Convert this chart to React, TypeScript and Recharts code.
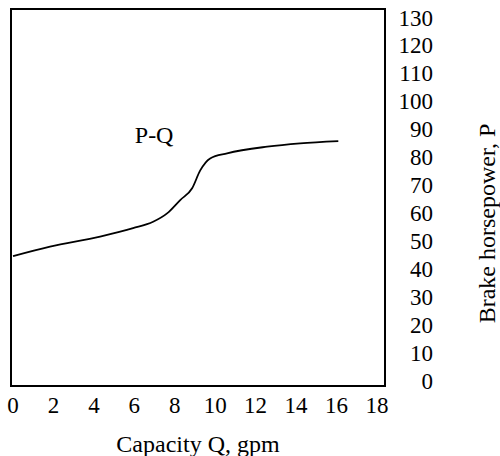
import React from 'react';
import {
  LineChart,
  Line,
  XAxis,
  YAxis,
  ReferenceArea,
  ReferenceDot,
} from 'recharts';

// capacity Q (gpm)
const capacity = [0, 1.83, 4.31, 5.94, 6.93, 7.62, 8.27, 8.86, 9.26, 9.75, 10.59, 12.57, 14.2, 16.09];
// brake horsepower P
const horsepower = [44.5, 47.9, 51.5, 54.5, 56.8, 59.8, 64.6, 68.8, 75.2, 79.5, 81.3, 83.7, 84.9, 85.7];

const xTicks = [0, 2, 4, 6, 8, 10, 12, 14, 16, 18];
const yTicks = [0, 10, 20, 30, 40, 50, 60, 70, 80, 90, 100, 110, 120, 130];

const curveLabel = { q: 6.98, p: 87.9, text: 'P-Q' };

const data = capacity.map((q, i) => ({ q, p: horsepower[i] }));

const font = '"Liberation Serif", "Times New Roman", serif';

const App: React.FC = () => {
  return (
    <div style={{ position: 'absolute', left: 0, top: 0, width: 500, height: 456, background: '#fff' }}>
      <LineChart
        width={500}
        height={456}
        data={data}
        margin={{ top: 9, right: 0, bottom: 0, left: 11 }}
        style={{ fontFamily: font }}
      >
        <ReferenceArea
          x1={-0.1}
          x2={18.4}
          y1={-2}
          y2={133}
          fill="none"
          stroke="#000"
          strokeWidth={2}
        />
        <XAxis
          dataKey="q"
          type="number"
          domain={[-0.1, 18.4]}
          ticks={xTicks}
          interval={0}
          axisLine={false}
          tickLine={false}
          tickSize={0}
          tickMargin={11}
          height={70}
          tick={{ fill: '#000', fontSize: 23, fontFamily: font }}
          label={{
            value: 'Capacity Q, gpm',
            position: 'insideBottom',
            offset: 4,
            fill: '#000',
            fontSize: 24,
            fontFamily: font,
          }}
        />
        <YAxis
          orientation="right"
          type="number"
          domain={[-2, 133]}
          ticks={yTicks}
          interval={0}
          width={115}
          axisLine={false}
          tickLine={false}
          tickSize={0}
          tickMargin={48}
          tick={{ fill: '#000', fontSize: 23, fontFamily: font, textAnchor: 'end' }}
          label={{
            value: 'Brake horsepower, P',
            angle: -90,
            position: 'center',
            dx: 44,
            dy: 26,
            fill: '#000',
            fontSize: 24,
            fontFamily: font,
          }}
        />
        <Line
          type="monotone"
          dataKey="p"
          stroke="#000"
          strokeWidth={1.8}
          dot={false}
          isAnimationActive={false}
        />
        <ReferenceDot
          x={curveLabel.q}
          y={curveLabel.p}
          r={0}
          fill="none"
          stroke="none"
          label={{ value: curveLabel.text, position: 'center', fill: '#000', fontSize: 24, fontFamily: font }}
        />
      </LineChart>
    </div>
  );
};

export default App;
